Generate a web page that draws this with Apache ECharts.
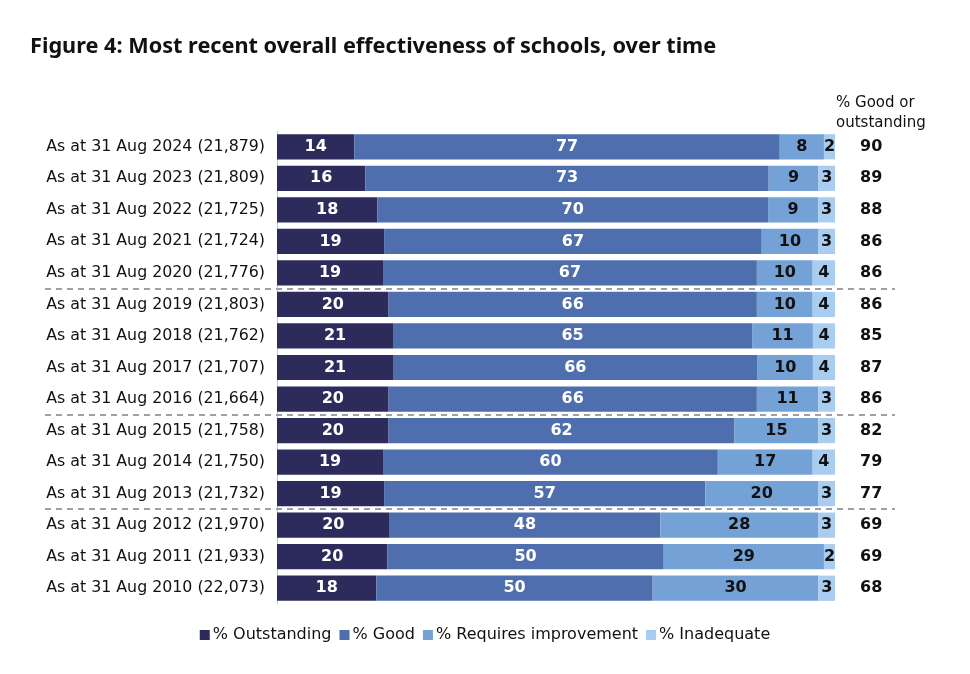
<!DOCTYPE html>
<html>
<head>
<meta charset="utf-8">
<script src="https://cdn.jsdelivr.net/npm/echarts@6/dist/echarts.min.js"></script>
<style>
  html, body { margin: 0; padding: 0; background: #fff; }
  #chart { width: 970px; height: 674px; }
</style>
</head>
<body>
<div id="chart"></div>
<script>
// categories, top to bottom
var categories = [
    'As at 31 Aug 2024 (21,879)', 'As at 31 Aug 2023 (21,809)', 'As at 31 Aug 2022 (21,725)',
    'As at 31 Aug 2021 (21,724)', 'As at 31 Aug 2020 (21,776)', 'As at 31 Aug 2019 (21,803)',
    'As at 31 Aug 2018 (21,762)', 'As at 31 Aug 2017 (21,707)', 'As at 31 Aug 2016 (21,664)',
    'As at 31 Aug 2015 (21,758)', 'As at 31 Aug 2014 (21,750)', 'As at 31 Aug 2013 (21,732)',
    'As at 31 Aug 2012 (21,970)', 'As at 31 Aug 2011 (21,933)', 'As at 31 Aug 2010 (22,073)'
];
var outstanding = [14, 16, 18, 19, 19, 20, 21, 21, 20, 20, 19, 19, 20, 20, 18];
var good        = [77, 73, 70, 67, 67, 66, 65, 66, 66, 62, 60, 57, 48, 50, 50];
var requiresImp = [8, 9, 9, 10, 10, 10, 11, 10, 11, 15, 17, 20, 28, 29, 30];
var inadequate  = [2, 3, 3, 3, 4, 4, 4, 4, 3, 3, 4, 3, 3, 2, 3];
var goodOrOutstanding = [90, 89, 88, 86, 86, 86, 85, 87, 86, 82, 79, 77, 69, 69, 68];
// dashed separators sit after these rows
var breaksAfter = [4, 8, 11];

var seriesNames = ['% Outstanding', '% Good', '% Requires improvement', '% Inadequate'];
var seriesData = [outstanding, good, requiresImp, inadequate];
var colors = ['#2c2b5b', '#4f6eae', '#74a2d6', '#a9cdf0'];
var labelColors = ['#fff', '#fff', '#111', '#111'];

var chart = echarts.init(document.getElementById('chart'));

// rounded values don't always total 100, scale each row to full width
var rowTotals = categories.map(function (c, i) {
    return outstanding[i] + good[i] + requiresImp[i] + inadequate[i];
});

var series = seriesData.map(function (arr, k) {
    return {
        name: seriesNames[k],
        type: 'bar',
        stack: 'all',
        barCategoryGap: '20%',
        itemStyle: { color: colors[k] },
        emphasis: { disabled: true },
        label: {
            show: true,
            position: 'inside',
            color: labelColors[k],
            fontFamily: 'DejaVu Sans',
            fontWeight: 'bold',
            fontSize: 16,
            formatter: function (p) { return arr[p.dataIndex]; }
        },
        data: arr.map(function (v, i) { return v / rowTotals[i] * 100; })
    };
});

var option = {
    animation: false,
    title: [{
        text: 'Figure 4: Most recent overall effectiveness of schools, over time',
        left: 25,
        top: 31,
        textStyle: { fontFamily: 'Noto Sans', fontWeight: 'bold', fontSize: 21.7, color: '#111' }
    }, {
        text: '% Good or\noutstanding',
        left: 831,
        top: 88,
        textStyle: { fontFamily: 'DejaVu Sans', fontWeight: 'normal', fontSize: 15, color: '#111', lineHeight: 20 }
    }],
    legend: {
        bottom: 26,
        left: 'center',
        icon: 'rect',
        itemWidth: 10,
        itemHeight: 10,
        itemGap: 8,
        textStyle: { fontFamily: 'DejaVu Sans', fontSize: 16, color: '#111', padding: [0, 0, 0, -2] },
        data: seriesNames
    },
    grid: { left: 277, right: 135, top: 131, bottom: 70 },
    xAxis: {
        type: 'value',
        min: 0,
        max: 100,
        show: false
    },
    yAxis: [{
        type: 'category',
        inverse: true,
        data: categories,
        axisTick: { show: false },
        axisLine: { show: true, lineStyle: { color: '#c8c8c8', width: 1 } },
        axisLabel: { fontFamily: 'DejaVu Sans', fontSize: 15.8, color: '#111', margin: 12 }
    }, {
        type: 'category',
        inverse: true,
        position: 'right',
        data: goodOrOutstanding,
        axisTick: { show: false },
        axisLine: { show: false },
        axisLabel: { fontFamily: 'DejaVu Sans', fontWeight: 'bold', fontSize: 16, color: '#111', margin: 25 }
    }],
    series: series
};

chart.setOption(option);

// dashed separators between groups of years
var lines = breaksAfter.map(function (i) {
    var y1 = chart.convertToPixel({ yAxisIndex: 0 }, categories[i]);
    var y2 = chart.convertToPixel({ yAxisIndex: 0 }, categories[i + 1]);
    var y = Math.round((y1 + y2) / 2);
    return {
        type: 'line',
        shape: { x1: 45, y1: y, x2: 895, y2: y },
        style: { stroke: '#a0a0a0', lineWidth: 2, lineDash: [6, 5] },
        z: 10
    };
});
chart.setOption({ graphic: lines });

window.onresize = function () {
    chart.resize();
};
</script>
</body>
</html>
